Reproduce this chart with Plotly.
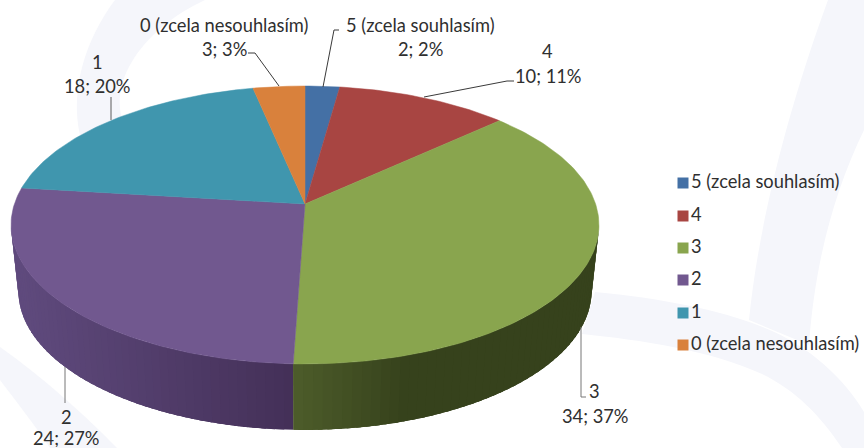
import math
import plotly.graph_objects as go

categories = ["5 (zcela souhlasím)", "4", "3", "2", "1", "0 (zcela nesouhlasím)"]
values = [2, 10, 34, 24, 18, 3]
percents = [2, 11, 37, 27, 20, 3]
colors = ["#4470A5", "#A84542", "#89A54E", "#71588F", "#4096AE", "#D9813C"]
wall_left = {"3": (77, 92, 42), "2": (95, 74, 125)}
wall_right = {"3": (54, 66, 28), "2": (68, 48, 88)}

FONT = "Lato"
FS = 18.3
TEXT = "#2f2f2f"
W, H = 864, 448
CX, CY, A, B, K = 305, 204, 290.6, 135.8, 0.151
DROP, SHRINK = 66, 0.975
LEGEND_X = 683
LEGEND_Y = [183, 216, 248, 280, 313, 345]


def top(theta):
    u, v = math.sin(theta), math.cos(theta)
    d = 1 + K * v
    return CX + A * u / d, CY - B * v / d


def bottom(theta):
    x, y = top(theta)
    return CX + SHRINK * (x - CX), y + DROP


def mix(a, b, t):
    t = max(0, min(1, t))
    return "rgb(%d,%d,%d)" % tuple(round(a[i] + (b[i] - a[i]) * t) for i in range(3))


total = sum(values)
fig = go.Figure()

angles = []
c = 0
for v in values:
    angles.append((c / total * 2 * math.pi, (c + v) / total * 2 * math.pi))
    c += v

# visible rim (front of the disc): overlapping strips so no seams show
ext = math.acos(-K)
for name, val_i in (("2", 3), ("3", 2)):
    a0, a1 = angles[val_i]
    if name == "3":
        a0 = max(a0, ext)
    else:
        a1 = min(a1, 2 * math.pi - ext)
    n = 50
    for i in range(n):
        t0 = a0 + (a1 - a0) * i / n
        t1 = a0 + (a1 - a0) * min(n, i + 2.5) / n
        ts = [t0 + (t1 - t0) * j / 6 for j in range(7)]
        p = [top(t) for t in ts] + [bottom(t) for t in reversed(ts)]
        p.append(p[0])
        xm = top(a0 + (a1 - a0) * (i + 0.5) / n)[0]
        if name == "2":
            col = mix(wall_left[name], wall_right[name], (xm - 20) / 270)
        else:
            col = mix(wall_left[name], wall_right[name], (xm - 295) / 110)
        fig.add_trace(go.Scatter(
            x=[q[0] for q in p], y=[q[1] for q in p], mode="lines", fill="toself",
            fillcolor=col, line=dict(color=col, width=0),
            showlegend=False, hoverinfo="skip"))

# top faces
for i, (a0, a1) in enumerate(angles):
    n = max(4, int((a1 - a0) * 60))
    pts = [top(a0 + (a1 - a0) * j / n) for j in range(n + 1)]
    xs = [CX] + [q[0] for q in pts] + [CX]
    ys = [CY] + [q[1] for q in pts] + [CY]
    fig.add_trace(go.Scatter(
        x=xs, y=ys, mode="lines", fill="toself", fillcolor=colors[i],
        line=dict(color=colors[i], width=0.5), showlegend=False,
        name=categories[i], hoverinfo="name"))

# leader lines
leaders = [
    ([323, 334, 339], [87, 30, 30], "#3a3a3a"),
    ([279, 255, 248], [86, 53, 53], "#3a3a3a"),
    ([111, 111], [120, 97], "#5a5a5a"),
    ([424, 507, 514], [97, 81, 81], "#3a3a3a"),
    ([65, 65], [367, 403], "#777777"),
    ([581, 581, 586], [327, 397, 397], "#777777"),
]
for lx, ly, lc in leaders:
    fig.add_trace(go.Scatter(x=lx, y=ly, mode="lines", line=dict(color=lc, width=1),
                             showlegend=False, hoverinfo="skip"))

# legend keys and names
for i, name in enumerate(categories):
    fig.add_trace(go.Scatter(
        x=[LEGEND_X], y=[LEGEND_Y[i]], mode="markers+text", name=name,
        text=[name], textposition="middle right",
        textfont=dict(family=FONT, size=FS, color=TEXT),
        marker=dict(symbol="square", size=11, color=colors[i]),
        showlegend=False, cliponaxis=False, hoverinfo="name"))

# data labels
label_pos = [((420, 25), (420, 49)), ((547, 51), (548, 76)), ((594, 391), (595, 416)),
             ((66, 417), (66, 438)), ((97, 62), (97, 86)), ((224, 25), (224, 49))]
annotations = []
for i, ((x1, y1), (x2, y2)) in enumerate(label_pos):
    annotations.append(dict(x=x1, y=y1, text=categories[i], showarrow=False,
                            xanchor="center", yanchor="middle"))
    ann = dict(x=x2, y=y2, text=f"{values[i]}; {percents[i]}%", showarrow=False,
               xanchor="center", yanchor="middle")
    if y2 > 430:
        ann["height"] = 18
    annotations.append(ann)

# faint background watermark
PALE = "#f5f6fb"
bg = [
    "M 115 0 C 85 40 70 90 80 135 L 130 135 C 100 90 140 30 205 0 Z",
    "M 828 0 C 795 90 760 210 749 320 L 809 345 C 815 260 835 190 864 130 L 864 0 Z",
    "M 595 292 C 660 298 720 310 760 326 C 810 345 845 380 864 412 L 864 448 L 842 448 C 820 415 795 390 762 374 C 710 350 640 340 582 334 Z",
    "M 0 347 C 40 375 85 415 117 448 L 50 448 C 35 425 15 400 0 380 Z",
]
shapes = [dict(type="path", path=p, fillcolor=PALE, line=dict(width=0), layer="below") for p in bg]

fig.update_layout(
    width=W, height=H, autosize=False, showlegend=False,
    margin=dict(l=0, r=0, t=0, b=0),
    paper_bgcolor="white", plot_bgcolor="rgba(0,0,0,0)",
    font=dict(family=FONT, size=FS, color=TEXT),
    xaxis=dict(range=[0, W], visible=False, fixedrange=True),
    yaxis=dict(range=[H, 0], visible=False, fixedrange=True),
    shapes=shapes, annotations=annotations,
)
fig.write_html("out.html", config={"displayModeBar": False},
               post_script="document.body.style.margin='0';document.body.style.overflow='hidden';")
